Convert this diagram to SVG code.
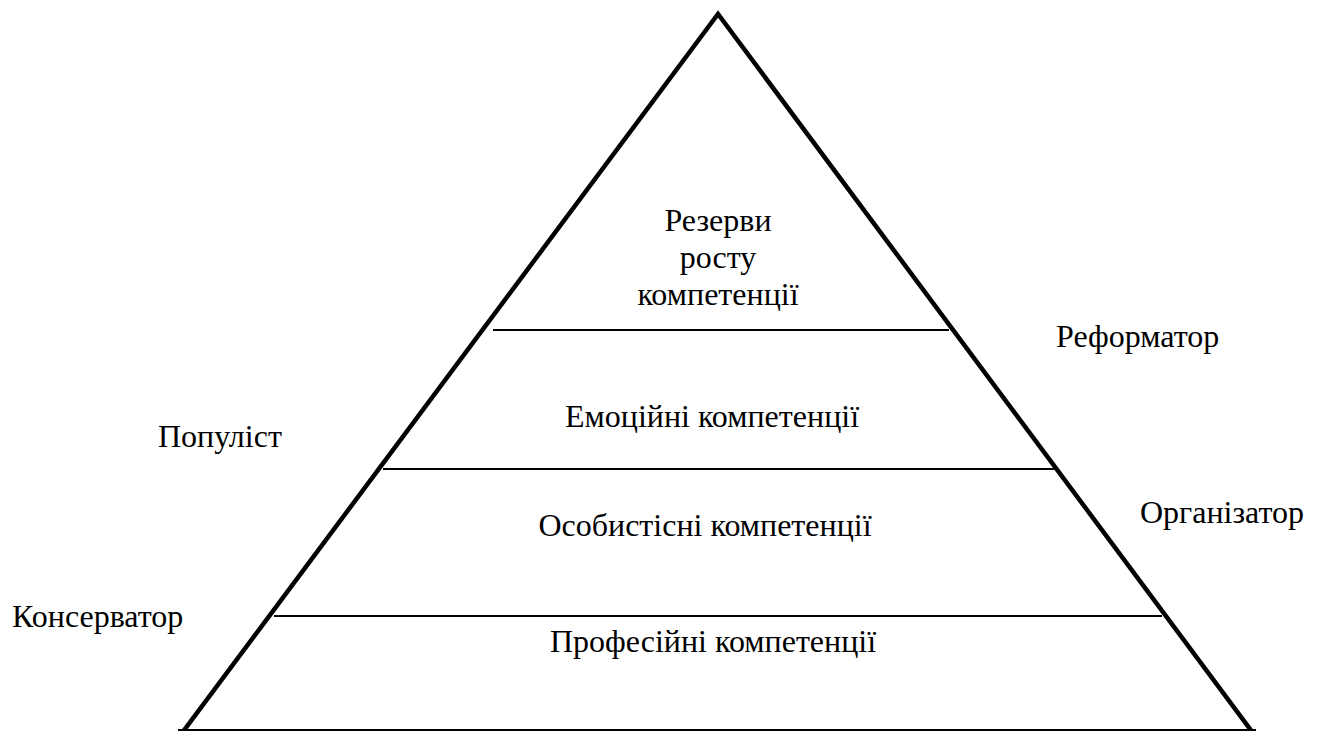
<svg xmlns="http://www.w3.org/2000/svg" width="1344" height="731" viewBox="0 0 1344 731">
<style>
.t{font-family:'Liberation Serif','Times New Roman',serif;font-size:32px;fill:#000}
.c{text-anchor:middle}
.side{fill:none;stroke:#000;stroke-width:4.5;stroke-linejoin:miter}
.tier{stroke:#000;stroke-width:2}
</style>
<rect width="1344" height="731" fill="#fff"/>
<g id="connectors">
<polyline class="side" points="182,733 718,14 1253,733"/>
<line class="tier" x1="178" y1="730" x2="1256" y2="730"/>
<line class="tier" x1="493" y1="330" x2="949" y2="330"/>
<line class="tier" x1="383" y1="469" x2="1054" y2="469"/>
<line class="tier" x1="274" y1="616" x2="1162" y2="616"/>
</g>
<g id="reserves" class="t"><text class="c" x="718" y="231">Резерви</text><text class="c" x="718" y="268">росту</text><text class="c" x="718" y="305">компетенції</text></g>
<g id="emotional" class="t"><text class="c" x="712" y="427">Емоційні компетенції</text></g>
<g id="personal" class="t"><text class="c" x="705" y="536">Особистісні компетенції</text></g>
<g id="professional" class="t"><text class="c" x="713" y="652">Професійні компетенції</text></g>
<g id="reformer" class="t"><text x="1056" y="347">Реформатор</text></g>
<g id="organizer" class="t"><text x="1140" y="523">Організатор</text></g>
<g id="populist" class="t"><text x="158" y="447">Популіст</text></g>
<g id="conservative" class="t"><text x="12" y="627">Консерватор</text></g>
</svg>
